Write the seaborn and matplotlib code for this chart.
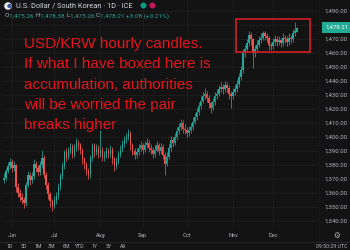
import matplotlib
matplotlib.use("Agg")
import matplotlib.pyplot as plt
import matplotlib.transforms as mtransforms
from matplotlib.patches import Rectangle, Circle
import numpy as np
import pandas as pd
import seaborn as sns

# ---------------- data ----------------
opens = [1369,1371,1376,1379,1382,1378,1380,1364,1360,1357,
         1355,1353,1366,1373,1369,1372,1381,1378,1375,1380,
         1385,1373,1366,1359,1354,1351,1355,1358,1364,1372,
         1379,1389,1386,1390,1393,1388,1392,1396,1394,1391,
         1384,1380,1376,1373,1385,1394,1389,1392,1388,1391,
         1386,1387,1390,1388,1391,1384,1379,1383,1388,1391,
         1395,1398,1400,1403,1394,1390,1387,1389,1392,1394,
         1391,1394,1396,1392,1391,1388,1391,1394,1390,1393,
         1387,1381,1386,1392,1398,1396,1400,1404,1407,1410,
         1406,1405,1403,1405,1407,1411,1414,1418,1422,1426,
         1429,1431,1428,1424,1421,1425,1429,1431,1434,1436,
         1434,1437,1435,1431,1429,1432,1434,1438,1443,1448,
         1460,1463,1467,1473,1470,1460,1463,1466,1469,1471,
         1474,1472,1471,1466,1465,1468,1470,1468,1469,1467,
         1471,1470,1468,1471,1470,1474,1475.26]
closes = [1371,1376,1379,1382,1378,1380,1364,1360,1357,1355,
          1353,1366,1373,1369,1372,1381,1378,1375,1380,1385,
          1373,1366,1359,1354,1351,1355,1358,1364,1372,1379,
          1389,1386,1390,1393,1388,1392,1396,1394,1391,1384,
          1380,1376,1373,1385,1394,1389,1392,1388,1391,1386,
          1387,1390,1388,1391,1384,1379,1383,1388,1391,1395,
          1398,1400,1403,1394,1390,1387,1389,1392,1394,1391,
          1394,1396,1392,1391,1388,1391,1394,1390,1393,1387,
          1381,1386,1392,1398,1396,1400,1404,1407,1410,1406,
          1405,1403,1405,1407,1411,1414,1418,1422,1426,1429,
          1431,1428,1424,1421,1425,1429,1431,1434,1436,1434,
          1437,1435,1431,1429,1432,1434,1438,1443,1448,1460,
          1463,1467,1473,1470,1460,1463,1466,1469,1471,1474,
          1472,1471,1466,1465,1468,1470,1468,1469,1467,1471,
          1470,1468,1471,1470,1474,1476,1478.21]
highs = [1374,1378,1382,1385,1384,1383,1381,1367,1363,1360,
         1357,1368,1376,1375,1375,1384,1383,1380,1383,1391,
         1387,1375,1368,1361,1356,1358,1361,1367,1374,1382,
         1391,1392,1393,1396,1395,1395,1399,1398,1396,1392,
         1386,1382,1378,1387,1396,1396,1395,1394,1405,1393,
         1390,1393,1392,1394,1393,1386,1386,1390,1394,1398,
         1401,1403,1406,1404,1396,1392,1392,1395,1397,1396,
         1397,1399,1398,1395,1393,1394,1397,1396,1396,1395,
         1389,1389,1395,1401,1400,1403,1407,1410,1413,1412,
         1409,1407,1408,1410,1414,1417,1421,1425,1429,1432,
         1435,1433,1430,1426,1428,1432,1434,1437,1439,1438,
         1440,1439,1437,1433,1435,1437,1441,1446,1451,1463,
         1466,1470,1476,1475,1471,1466,1469,1472,1474,1476,
         1476,1474,1472,1468,1471,1473,1472,1472,1471,1474,
         1473,1472,1474,1473,1477,1482,1478.38]
lows = [1367,1369,1374,1377,1375,1376,1361,1357,1354,1352,
        1349,1351,1364,1366,1367,1370,1375,1372,1373,1378,
        1371,1363,1356,1350,1347,1349,1352,1356,1362,1370,
        1377,1383,1384,1388,1385,1386,1390,1391,1388,1381,
        1377,1373,1370,1371,1383,1386,1387,1385,1386,1383,
        1383,1385,1385,1386,1381,1376,1377,1381,1386,1389,
        1393,1396,1398,1391,1387,1384,1385,1387,1390,1388,
        1389,1392,1389,1388,1385,1386,1389,1387,1388,1384,
        1373,1379,1384,1390,1393,1394,1398,1402,1405,1403,
        1402,1400,1401,1403,1405,1409,1412,1416,1420,1424,
        1427,1425,1421,1417,1419,1423,1427,1429,1432,1431,
        1432,1432,1427,1421,1427,1430,1432,1436,1441,1446,
        1457,1461,1465,1466,1449,1457,1461,1464,1467,1469,
        1469,1468,1462,1462,1463,1466,1465,1466,1464,1465,
        1467,1465,1466,1467,1468,1472,1475.26]
month_labels = ["Jun", "Jul", "Aug", "Sep", "Oct", "Nov", "Dec"]
price_ticks = [1340, 1350, 1360, 1370, 1380, 1390, 1400, 1410,
               1420, 1430, 1440, 1450, 1460, 1470, 1480, 1490]
last_price = 1478.21
title = "U.S. Dollar / South Korean · 1D · ICE"
ohlc_parts = [("O", "l"), ("1,475.26 ", "v"), ("H", "l"), ("1,478.38 ", "v"),
              ("L", "l"), ("1,475.26 ", "v"), ("C", "l"), ("1,478.21 ", "v"),
              ("+3.08 (+0.21%)", "v")]
note_lines = ["USD/KRW hourly candles.",
              "If what I have boxed here is",
              "accumulation, authorities",
              "will be worried the pair",
              "breaks higher"]
ranges = ["1D", "5D", "1M", "3M", "6M", "YTD", "1Y", "5Y", "All"]
clock = "09:50:29 UTC"

# ---------------- style ----------------
BG = "#131313"
GRID = "#1e1e1e"
TXT = "#b2b5be"
UP = "#26a69a"
DN = "#ef5350"
sns.set_theme(style="dark", rc={
    "figure.facecolor": BG, "axes.facecolor": BG,
    "axes.edgecolor": BG, "grid.color": GRID,
})
plt.rcParams["font.family"] = ["Roboto", "DejaVu Sans"]

df = pd.DataFrame({"open": opens, "high": highs, "low": lows, "close": closes})
df["date"] = pd.bdate_range("2025-05-27", periods=len(df))
df["x"] = np.arange(len(df))
df["up"] = df["close"] >= df["open"]
df["col"] = np.where(df["up"], UP, DN)
df["bot"] = df[["open", "close"]].min(axis=1)
df["h"] = (df["close"] - df["open"]).abs().clip(lower=0.45)

fig = plt.figure(figsize=(3.5, 2.5), dpi=100)
ax = fig.add_axes([3 / 350, 22 / 250, 315 / 350, 228 / 250])

ax.vlines(df["x"], df["low"], df["high"], colors=df["col"], linewidth=0.55, zorder=2)
ax.bar(df["x"], df["h"], bottom=df["bot"], width=0.68, color=df["col"],
       linewidth=0, zorder=3)

ax.set_xlim(-0.5, 156.4)
ax.set_ylim(1335.0, 1497.86)

# month ticks at first trading day of each month
first_idx = df.groupby(df["date"].dt.to_period("M"))["x"].min().iloc[1:]
ax.set_xticks(first_idx.values)
ax.set_xticklabels(month_labels)
ax.set_yticks(price_ticks)
ax.set_yticklabels(["" if abs(v - last_price) < 6 else f"{v:,.2f}" for v in price_ticks])
ax.yaxis.tick_right()
ax.tick_params(axis="y", length=0, pad=5.0, labelsize=4.3, labelcolor=TXT)
ax.tick_params(axis="x", length=0, pad=3.5, labelsize=4.0, labelcolor=TXT)
ax.grid(True, color=GRID, linewidth=0.6)
for s in ax.spines.values():
    s.set_visible(False)

# last-price badge
bt = mtransforms.blended_transform_factory(ax.transAxes, ax.transData)
ax.text(1 + 7 / 315, last_price, f"{last_price:,.2f}", transform=bt, ha="left",
        va="center", fontsize=4.3, color="white", clip_on=False, zorder=10,
        bbox=dict(boxstyle="square,pad=0.45", fc="#22ab94", ec="none"))

# the annotation box
ax.add_patch(Rectangle((115.6, 1460.7), 36.8, 23.6, fill=False, ec="#d21f24",
                       lw=1.2, zorder=6, clip_on=False))

# ---------------- overlay in pixel coordinates ----------------
ov = fig.add_axes([0, 0, 1, 1], zorder=5)
ov.set_xlim(0, 350)
ov.set_ylim(250, 0)
ov.axis("off")
ov.patch.set_alpha(0)

ov.add_patch(Circle((8, 6), 3.8, fc="#e8e8e8", ec="none"))
ov.add_patch(Circle((9.5, 6), 2.2, fc="#3c5a9a", ec="none"))
ov.text(15.5, 6.2, title, fontsize=5.35, color="#d1d4dc", va="center", ha="left")
ov.add_patch(Circle((143.5, 5.5), 3.0, fc="#089981", ec="none"))
ov.add_patch(Circle((152.5, 5.5), 3.0, fc="#c2185b", ec="none"))

fig.canvas.draw()
r = fig.canvas.get_renderer()
inv = ov.transData.inverted()
xx = 5.0
for s, kind in ohlc_parts:
    t = ov.text(xx, 15.8, s, fontsize=4.55, va="center", ha="left",
                color=("#b2b5be" if kind == "l" else UP))
    bb = t.get_window_extent(r)
    x0 = inv.transform((bb.x0, bb.y0))[0]
    x1 = inv.transform((bb.x1, bb.y0))[0]
    xx += (x1 - x0)

for i, line in enumerate(note_lines):
    ov.text(24, 48.3 + 20.2 * i, line, fontsize=11.0, color="#e3161d",
            family=["Liberation Sans", "DejaVu Sans"], va="baseline", ha="left")

# settings gear, time-axis separator and range toolbar
ov.text(337, 235, "\u2699", fontsize=5.5, color=TXT, ha="center", va="center",
        family=["DejaVu Sans"])
ov.plot([0, 350], [241.5, 241.5], color="#2a2a2a", lw=0.6)
ov.plot([318.5, 318.5], [0, 241.5], color="#1c1c1c", lw=0.5)
xr = 10
for lab in ranges:
    t = ov.text(xr, 246.5, lab, fontsize=3.8, color=TXT, ha="center", va="center")
    xr += 14 if len(lab) < 3 else 15
ov.text(347, 246.5, clock, fontsize=3.8, color=TXT, ha="right", va="center")

fig.savefig("out.png", dpi=100, facecolor=BG)
